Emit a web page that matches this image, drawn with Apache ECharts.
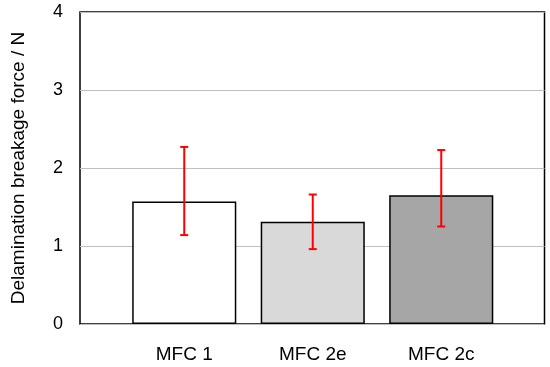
<!DOCTYPE html>
<html><head><meta charset="utf-8">
<script src="https://cdn.jsdelivr.net/npm/echarts@6/dist/echarts.min.js"></script>
<style>html,body{margin:0;padding:0;background:#fff}#c{width:550px;height:367px}</style>
</head><body><div id="c"></div>
<script>
const categories = ['MFC 1', 'MFC 2e', 'MFC 2c'];
const values = [1.57, 1.31, 1.65];
const errLow = [1.14, 0.96, 1.25];
const errHigh = [2.27, 1.66, 2.23];
const barColors = ['#ffffff', '#d9d9d9', '#a6a6a6'];
const yTicks = [0, 1, 2, 3, 4];

const chart = echarts.init(document.getElementById('c'));
const font = 'Liberation Sans, Arial, sans-serif';
chart.setOption({
  animation: false,
  grid: [
    {left: 80, right: 5.5, top: 12, bottom: 43, show: true, borderColor: '#000', borderWidth: 1.5, backgroundColor: 'transparent'},
    {left: 120, right: 44.5, top: 12, bottom: 43}
  ],
  xAxis: [
    {gridIndex: 0, type: 'value', show: false, min: 0, max: 1},
    {gridIndex: 1, type: 'category', data: categories,
     axisLine: {show: false}, axisTick: {show: false},
     axisLabel: {fontFamily: font, fontSize: 19, color: '#000', margin: 21}}
  ],
  yAxis: [
    {gridIndex: 0, type: 'value', min: yTicks[0], max: yTicks[yTicks.length-1], interval: 1,
     name: 'Delamination breakage force / N', nameLocation: 'middle', nameGap: 52,
     nameTextStyle: {fontFamily: font, fontSize: 19, color: '#000'},
     axisLine: {show: false}, axisTick: {show: false},
     axisLabel: {fontFamily: font, fontSize: 18, color: '#000', margin: 17},
     splitLine: {show: true, lineStyle: {color: '#bfbfbf', width: 1}}},
    {gridIndex: 1, type: 'value', min: 0, max: 4, show: false, splitLine: {show: false}}
  ],
  series: [
    {type: 'bar', xAxisIndex: 1, yAxisIndex: 1, barCategoryGap: '19%',
     data: values.map((v, i) => ({value: v, itemStyle: {color: barColors[i]}})),
     itemStyle: {borderColor: '#000', borderWidth: 1.5}},
    {type: 'custom', xAxisIndex: 1, yAxisIndex: 1, z: 5,
     data: categories.map((c, i) => [i, errLow[i], errHigh[i]]),
     renderItem: function (params, api) {
       const lo = api.coord([api.value(0), api.value(1)]);
       const hi = api.coord([api.value(0), api.value(2)]);
       const w = 4;
       const st = {stroke: '#ff0000', lineWidth: 2};
       return {type: 'group', children: [
         {type: 'line', shape: {x1: hi[0], y1: hi[1], x2: lo[0], y2: lo[1]}, style: st},
         {type: 'line', shape: {x1: hi[0]-w, y1: hi[1], x2: hi[0]+w, y2: hi[1]}, style: st},
         {type: 'line', shape: {x1: lo[0]-w, y1: lo[1], x2: lo[0]+w, y2: lo[1]}, style: st}
       ]};
     }}
  ]
});
</script></body></html>
